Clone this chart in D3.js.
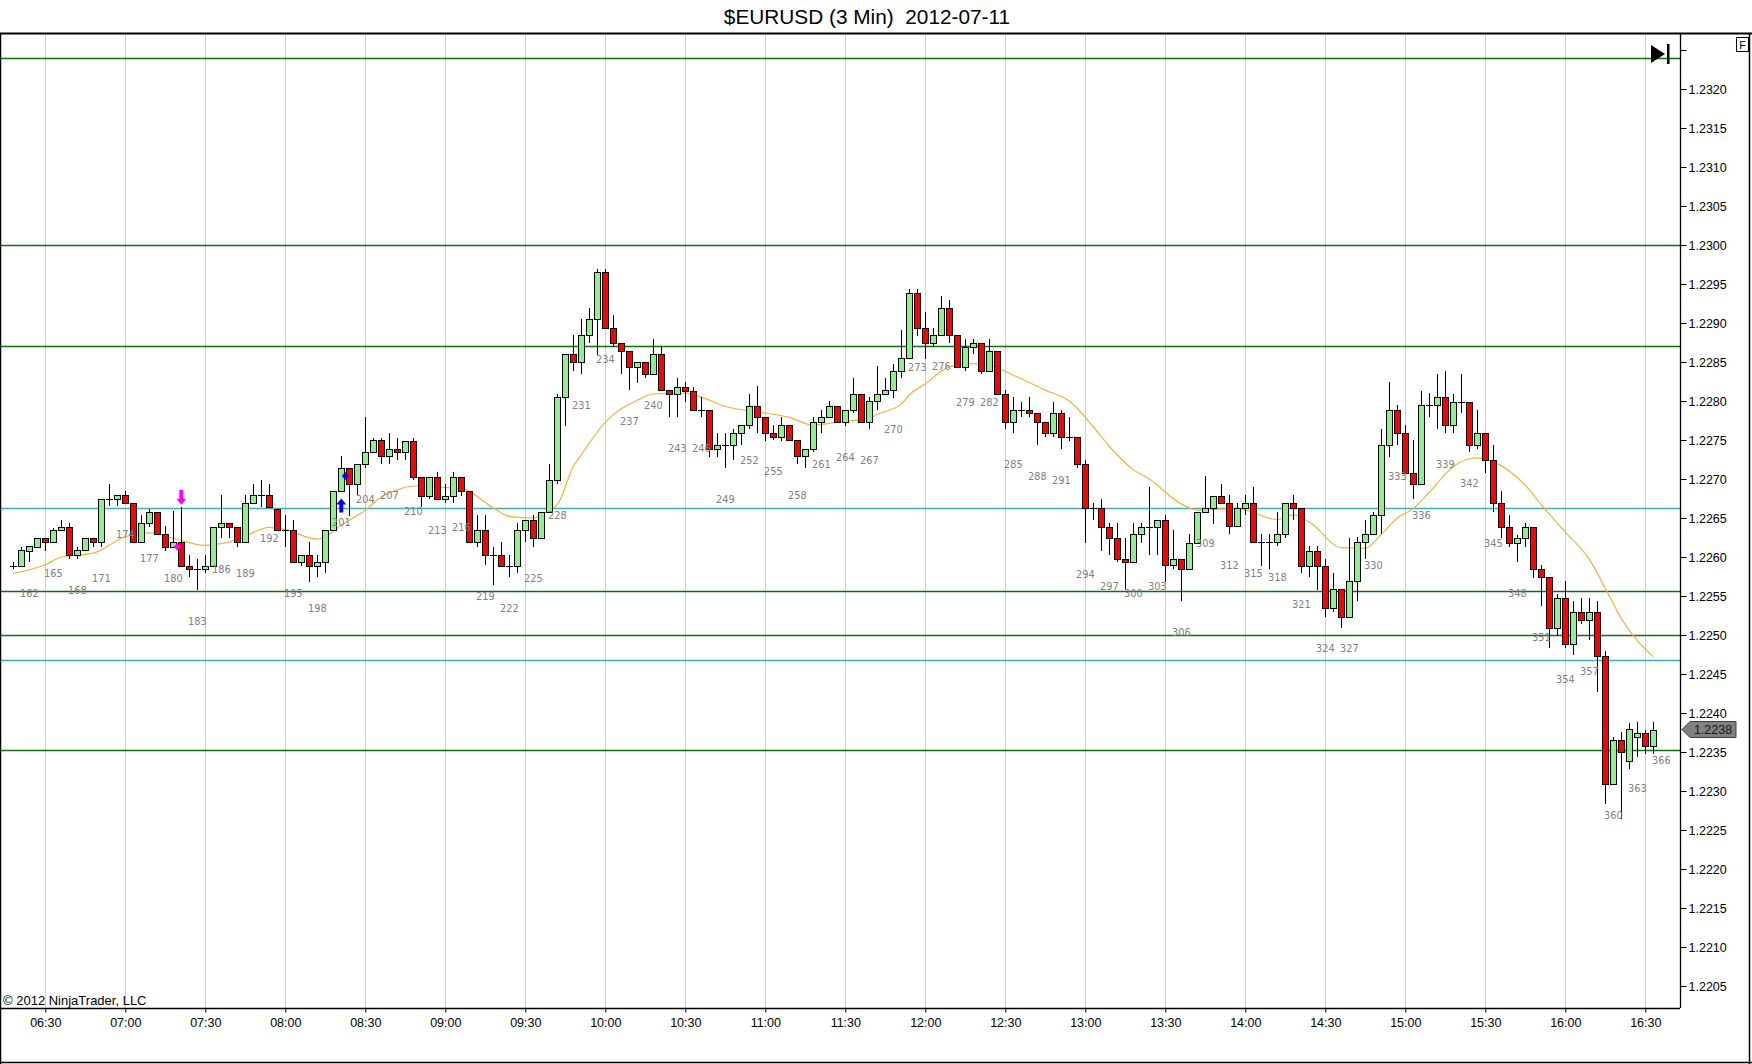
<!DOCTYPE html>
<html><head><meta charset="utf-8">
<script src="https://cdn.jsdelivr.net/npm/d3@7"></script>
<style>body{margin:0;background:#fff;} svg{display:block;}</style>
</head><body>
<svg id="c" width="1752" height="1064"></svg>
<script>
// ---------- data ----------
const title = "$EURUSD (3 Min)  2012-07-11";
const copyright = "\u00A9 2012 NinjaTrader, LLC";
const firstBarNumber = 160;
const firstBarTime = "2012-07-11 06:18";
const barMinutes = 3;

const open = [
1.22588,1.22589,1.22608,1.22613,1.22624,1.22619,1.22635,1.22639,1.22603,1.22609,
1.22624,1.22619,1.22674,1.22674,1.22679,1.22669,1.22619,1.22643,1.22658,1.22629,
1.22613,1.22619,1.22589,1.22584,1.22584,1.22589,1.22639,1.22643,1.22639,1.22619,
1.22669,1.22679,1.22679,1.22662,1.22635,1.22635,1.22593,1.22603,1.22589,1.22593,
1.22635,1.22685,1.22714,1.22694,1.22719,1.22735,1.22750,1.22729,1.22739,1.22735,
1.22749,1.22703,1.22678,1.22703,1.22674,1.22678,1.22703,1.22684,1.22619,1.22634,
1.22603,1.22603,1.22589,1.22589,1.22634,1.22648,1.22624,1.22658,1.22699,1.22805,
1.22860,1.22850,1.22884,1.22905,1.22965,1.22894,1.22874,1.22864,1.22844,1.22850,
1.22834,1.22860,1.22814,1.22809,1.22818,1.22813,1.22789,1.22789,1.22739,1.22744,
1.22744,1.22759,1.22769,1.22794,1.22779,1.22759,1.22754,1.22769,1.22750,1.22729,
1.22739,1.22773,1.22779,1.22794,1.22773,1.22789,1.22809,1.22773,1.22800,1.22809,
1.22814,1.22839,1.22855,1.22939,1.22894,1.22874,1.22884,1.22919,1.22884,1.22844,
1.22869,1.22874,1.22839,1.22864,1.22809,1.22773,1.22789,1.22789,1.22784,1.22773,
1.22759,1.22784,1.22754,1.22754,1.22719,1.22663,1.22663,1.22639,1.22624,1.22598,
1.22593,1.22629,1.22639,1.22639,1.22648,1.22590,1.22598,1.22584,1.22618,1.22658,
1.22663,1.22678,1.22669,1.22640,1.22663,1.22669,1.22619,1.22619,1.22619,1.22629,
1.22669,1.22663,1.22589,1.22608,1.22589,1.22534,1.22559,1.22523,1.22569,1.22619,
1.22629,1.22654,1.22744,1.22789,1.22759,1.22708,1.22694,1.22795,1.22795,1.22805,
1.22769,1.22799,1.22799,1.22744,1.22759,1.22724,1.22669,1.22639,1.22618,1.22624,
1.22639,1.22584,1.22574,1.22509,1.22548,1.22488,1.22529,1.22519,1.22529,1.22473,
1.22309,1.22365,1.22338,1.22369,1.22374,1.22358,1.22380];

const high = [
1.22593,1.22613,1.22614,1.22624,1.22624,1.22637,1.22648,1.22643,1.22613,1.22624,
1.22624,1.22674,1.22694,1.22679,1.22685,1.22669,1.22654,1.22662,1.22658,1.22640,
1.22659,1.22664,1.22603,1.22598,1.22603,1.22639,1.22679,1.22643,1.22639,1.22679,
1.22694,1.22699,1.22694,1.22662,1.22654,1.22647,1.22603,1.22619,1.22603,1.22635,
1.22685,1.22729,1.22714,1.22719,1.22780,1.22753,1.22753,1.22759,1.22753,1.22749,
1.22753,1.22703,1.22703,1.22709,1.22694,1.22709,1.22703,1.22684,1.22654,1.22654,
1.22613,1.22619,1.22602,1.22643,1.22648,1.22654,1.22658,1.22719,1.22809,1.22860,
1.22885,1.22905,1.22919,1.22969,1.22969,1.22910,1.22874,1.22864,1.22850,1.22850,
1.22879,1.22870,1.22814,1.22829,1.22824,1.22818,1.22805,1.22789,1.22759,1.22759,
1.22764,1.22769,1.22809,1.22819,1.22779,1.22769,1.22779,1.22769,1.22750,1.22739,
1.22779,1.22789,1.22800,1.22794,1.22789,1.22829,1.22809,1.22805,1.22845,1.22829,
1.22848,1.22891,1.22944,1.22944,1.22914,1.22894,1.22935,1.22929,1.22884,1.22879,
1.22879,1.22874,1.22879,1.22864,1.22814,1.22805,1.22799,1.22805,1.22784,1.22773,
1.22799,1.22789,1.22779,1.22754,1.22724,1.22669,1.22674,1.22643,1.22643,1.22624,
1.22643,1.22643,1.22690,1.22648,1.22654,1.22635,1.22598,1.22629,1.22658,1.22704,
1.22678,1.22694,1.22679,1.22669,1.22679,1.22690,1.22629,1.22629,1.22658,1.22669,
1.22679,1.22663,1.22614,1.22614,1.22598,1.22579,1.22559,1.22624,1.22626,1.22648,
1.22658,1.22764,1.22824,1.22795,1.22769,1.22750,1.22813,1.22810,1.22835,1.22839,
1.22809,1.22834,1.22799,1.22789,1.22759,1.22744,1.22685,1.22654,1.22628,1.22643,
1.22639,1.22590,1.22574,1.22553,1.22569,1.22543,1.22548,1.22548,1.22544,1.22479,
1.22369,1.22376,1.22387,1.22388,1.22378,1.22389,1.22380];

const low = [
1.22584,1.22589,1.22594,1.22613,1.22608,1.22619,1.22635,1.22598,1.22598,1.22609,
1.22613,1.22613,1.22665,1.22665,1.22669,1.22619,1.22619,1.22639,1.22629,1.22608,
1.22613,1.22589,1.22574,1.22558,1.22579,1.22589,1.22624,1.22624,1.22613,1.22619,
1.22669,1.22664,1.22664,1.22635,1.22613,1.22593,1.22589,1.22568,1.22574,1.22579,
1.22635,1.22685,1.22653,1.22679,1.22714,1.22735,1.22719,1.22719,1.22724,1.22724,
1.22699,1.22664,1.22674,1.22674,1.22669,1.22669,1.22678,1.22619,1.22613,1.22590,
1.22564,1.22589,1.22574,1.22579,1.22619,1.22613,1.22624,1.22658,1.22694,1.22768,
1.22838,1.22834,1.22874,1.22859,1.22894,1.22869,1.22834,1.22814,1.22823,1.22829,
1.22834,1.22814,1.22779,1.22779,1.22799,1.22789,1.22779,1.22728,1.22728,1.22714,
1.22724,1.22744,1.22764,1.22759,1.22749,1.22750,1.22749,1.22750,1.22719,1.22714,
1.22734,1.22759,1.22779,1.22773,1.22768,1.22784,1.22773,1.22764,1.22789,1.22809,
1.22804,1.22829,1.22855,1.22883,1.22854,1.22869,1.22884,1.22874,1.22844,1.22839,
1.22860,1.22834,1.22839,1.22809,1.22764,1.22759,1.22779,1.22779,1.22744,1.22754,
1.22754,1.22739,1.22749,1.22714,1.22618,1.22648,1.22608,1.22603,1.22593,1.22558,
1.22593,1.22618,1.22602,1.22602,1.22568,1.22584,1.22543,1.22584,1.22618,1.22658,
1.22642,1.22669,1.22629,1.22640,1.22654,1.22619,1.22589,1.22584,1.22614,1.22624,
1.22648,1.22579,1.22574,1.22558,1.22523,1.22529,1.22509,1.22523,1.22543,1.22597,
1.22629,1.22629,1.22728,1.22744,1.22708,1.22674,1.22694,1.22779,1.22764,1.22759,
1.22759,1.22784,1.22734,1.22739,1.22708,1.22658,1.22624,1.22613,1.22593,1.22613,
1.22573,1.22537,1.22483,1.22499,1.22483,1.22474,1.22514,1.22494,1.22427,1.22283,
1.22309,1.22264,1.22328,1.22344,1.22348,1.22348,1.22380];

const close = [
1.22588,1.22609,1.22614,1.22624,1.22619,1.22635,1.22639,1.22603,1.22609,1.22624,
1.22619,1.22674,1.22674,1.22679,1.22669,1.22619,1.22643,1.22658,1.22629,1.22613,
1.22619,1.22589,1.22584,1.22584,1.22589,1.22639,1.22643,1.22639,1.22619,1.22669,
1.22679,1.22679,1.22664,1.22635,1.22635,1.22593,1.22603,1.22589,1.22593,1.22635,
1.22685,1.22714,1.22694,1.22719,1.22734,1.22750,1.22729,1.22739,1.22735,1.22749,
1.22703,1.22678,1.22703,1.22674,1.22678,1.22703,1.22684,1.22619,1.22634,1.22603,
1.22603,1.22589,1.22589,1.22634,1.22648,1.22624,1.22658,1.22699,1.22805,1.22860,
1.22850,1.22884,1.22905,1.22965,1.22894,1.22874,1.22864,1.22844,1.22850,1.22834,
1.22860,1.22814,1.22809,1.22818,1.22813,1.22789,1.22789,1.22739,1.22744,1.22744,
1.22759,1.22769,1.22794,1.22779,1.22759,1.22754,1.22769,1.22750,1.22729,1.22739,
1.22773,1.22779,1.22794,1.22773,1.22789,1.22809,1.22773,1.22800,1.22809,1.22814,
1.22839,1.22855,1.22939,1.22894,1.22874,1.22884,1.22919,1.22884,1.22844,1.22869,
1.22874,1.22839,1.22864,1.22809,1.22773,1.22789,1.22789,1.22784,1.22773,1.22759,
1.22784,1.22754,1.22754,1.22719,1.22663,1.22663,1.22639,1.22624,1.22598,1.22593,
1.22629,1.22639,1.22639,1.22648,1.22590,1.22598,1.22584,1.22618,1.22658,1.22663,
1.22678,1.22669,1.22640,1.22663,1.22669,1.22619,1.22619,1.22619,1.22629,1.22669,
1.22663,1.22589,1.22608,1.22589,1.22534,1.22559,1.22523,1.22569,1.22619,1.22629,
1.22654,1.22744,1.22789,1.22759,1.22708,1.22694,1.22795,1.22795,1.22805,1.22769,
1.22799,1.22799,1.22744,1.22759,1.22724,1.22669,1.22639,1.22618,1.22624,1.22639,
1.22584,1.22574,1.22509,1.22548,1.22488,1.22529,1.22519,1.22529,1.22473,1.22309,
1.22365,1.22350,1.22380,1.22374,1.22358,1.22378,1.22380];

// moving average (orange) at these bar numbers
const emaBars = [160,164,166,170,174,177,180,184,188,192,194,198,199,201,204,206,208,210,214,216,
  220,222,225,227,228,230,231,234,238,240,244,246,249,253,257,260,263,267,268,271,272,274,276,277,
  280,282,285,289,292,295,297,300,302,306,308,312,314,318,320,322,326,329,331,333,335,337,340,342,
  343,345,349,351,354,357,359,361,365];
const emaValues = [1.22579,1.22590,1.22600,1.22605,1.22626,1.22631,1.22624,1.22615,1.22622,1.22638,1.22635,1.22623,1.22626,1.22641,1.22660,1.22677,1.22686,1.22691,1.22689,1.22688,
  1.22663,1.22652,1.22650,1.22660,1.22667,1.22716,1.22731,1.22773,1.22801,1.22809,1.22810,1.22805,1.22793,1.22786,1.22779,1.22769,1.22773,1.22778,1.22783,1.22796,1.22808,1.22822,1.22838,1.22844,
  1.22848,1.22846,1.22833,1.22814,1.22800,1.22767,1.22742,1.22712,1.22700,1.22668,1.22660,1.22662,1.22660,1.22648,1.22654,1.22645,1.22612,1.22611,1.22629,1.22650,1.22662,1.22683,1.22716,1.22726,
  1.22727,1.22722,1.22692,1.22667,1.22632,1.22597,1.22560,1.22521,1.22472];

const greenLevels = [1.2324, 1.2300, 1.2287, 1.22557, 1.2250, 1.22353];
const tealLevels = [1.22663, 1.22468];
const priceTicks = [1.2205,1.2210,1.2215,1.2220,1.2225,1.2230,1.2235,1.2240,1.2245,1.2250,1.2255,1.2260,
  1.2265,1.2270,1.2275,1.2280,1.2285,1.2290,1.2295,1.2300,1.2305,1.2310,1.2315,1.2320,1.2325];
const lastPrice = 1.2238;
const labelEvery = 3;
// signal markers: bar, price, kind
const markers = [
  {bar:181, price:1.22667, kind:"arrowDown", color:"#FF00FF"},
  {bar:180.5, price:1.22613, kind:"diamond", color:"#FF00FF"},
  {bar:201, price:1.22675, kind:"arrowUp", color:"#0000FF"},
  {bar:201.5, price:1.22704, kind:"diamond", color:"#0000FF"}
];

// ---------- drawing ----------
const W = 1752, H = 1064;
const plot = {left:0, right:1680, top:34, bottom:1008};
const svg = d3.select("#c");
svg.append("rect").attr("width", W).attr("height", H).attr("fill", "#fff");

const parse = d3.timeParse("%Y-%m-%d %H:%M");
const t0 = parse(firstBarTime);
const barTime = n => new Date(t0.getTime() + (n - firstBarNumber) * barMinutes * 60000);
const x = d3.scaleTime()
  .domain([barTime(164), barTime(364)])
  .range([45.3, 1645.3]);
const y = d3.scaleLinear().domain([1.2205, 1.2320]).range([986, 89]);
const bx = n => x(barTime(n));

const bars = open.map((o, i) => ({n: firstBarNumber + i, o, h: high[i], l: low[i], c: close[i]}));

svg.append("defs").append("clipPath").attr("id", "pc")
  .append("rect").attr("x", plot.left).attr("y", plot.top)
  .attr("width", plot.right - plot.left).attr("height", plot.bottom - plot.top);

// title
svg.append("text").attr("x", 867).attr("y", 23.5).attr("text-anchor", "middle")
  .style("white-space", "pre").attr("font-family", "Liberation Sans, Arial, sans-serif")
  .attr("font-size", 20.8).attr("fill", "#000").text(title);

const g = svg.append("g").attr("clip-path", "url(#pc)");

// vertical grid
const timeTicks = x.ticks(d3.timeMinute.every(30));
g.selectAll("line.vg").data(timeTicks).join("line")
  .attr("x1", d => Math.round(x(d)) + 0.5).attr("x2", d => Math.round(x(d)) + 0.5)
  .attr("y1", plot.top).attr("y2", plot.bottom)
  .attr("stroke", "#d0d0d0").attr("stroke-width", 1);

// horizontal level lines
g.selectAll("line.gl").data(greenLevels).join("line")
  .attr("x1", plot.left).attr("x2", plot.right)
  .attr("y1", d => Math.round(y(d)) + 0.5).attr("y2", d => Math.round(y(d)) + 0.5)
  .attr("stroke", "#0f6e0f").attr("stroke-width", 1.3);
g.selectAll("line.tl").data(tealLevels).join("line")
  .attr("x1", plot.left).attr("x2", plot.right)
  .attr("y1", d => Math.round(y(d)) + 0.5).attr("y2", d => Math.round(y(d)) + 0.5)
  .attr("stroke", "#3fb0b0").attr("stroke-width", 1.3);

// moving average
const ema = emaBars.map((b, i) => ({b, v: emaValues[i]}));
g.append("path").datum(ema)
  .attr("d", d3.line().x(d => bx(d.b)).y(d => y(d.v)).curve(d3.curveMonotoneX))
  .attr("fill", "none").attr("stroke", "#F4B13C").attr("stroke-width", 1.2);

// candles
const drawn = bars.filter(d => d.h > d.l);
const cg = g.selectAll("g.c").data(drawn).join("g");
cg.append("line")
  .attr("x1", d => Math.round(bx(d.n)) + 0.5).attr("x2", d => Math.round(bx(d.n)) + 0.5)
  .attr("y1", d => Math.round(y(d.h))).attr("y2", d => Math.round(y(d.l)))
  .attr("stroke", "#000").attr("stroke-width", 1);
cg.filter(d => d.o !== d.c).append("rect")
  .attr("x", d => Math.round(bx(d.n)) - 2.5)
  .attr("y", d => Math.round(y(Math.max(d.o, d.c))) + 0.5)
  .attr("width", 6)
  .attr("height", d => Math.max(1, Math.round(y(Math.min(d.o, d.c))) - Math.round(y(Math.max(d.o, d.c)))))
  .attr("fill", d => d.c > d.o ? "#90EE90" : "#FF0000")
  .attr("stroke", "#000").attr("stroke-width", 1);
cg.filter(d => d.o === d.c).append("line")
  .attr("x1", d => Math.round(bx(d.n)) - 3).attr("x2", d => Math.round(bx(d.n)) + 4)
  .attr("y1", d => Math.round(y(d.c)) + 0.5).attr("y2", d => Math.round(y(d.c)) + 0.5)
  .attr("stroke", "#000").attr("stroke-width", 1);

// bar number labels
g.selectAll("text.bn").data(bars.filter(d => d.n % labelEvery === 0)).join("text")
  .attr("x", d => bx(d.n)).attr("y", d => y(d.l) + 35)
  .attr("text-anchor", "middle").attr("font-family", "DejaVu Sans, Verdana, sans-serif")
  .attr("font-size", 9.8).attr("fill", "#808080").text(d => d.n);

// markers
markers.forEach(m => {
  const cx = bx(m.bar), cy = y(m.price);
  let p;
  if (m.kind === "arrowDown") {
    p = `M${cx-2},${cy-15}h4v9h3l-5,6l-5,-6h3z`;
  } else if (m.kind === "arrowUp") {
    p = `M${cx-2},${cy+14}h4v-8h3l-5,-6l-5,6h3z`;
  } else {
    p = `M${cx},${cy-4}l3.5,4l-3.5,4l-3.5,-4z`;
  }
  g.append("path").attr("d", p).attr("fill", m.color);
});

// frame
svg.append("line").attr("x1", 0).attr("x2", W).attr("y1", plot.top - 0.5).attr("y2", plot.top - 0.5)
  .attr("stroke", "#000").attr("stroke-width", 2);
svg.append("line").attr("x1", 0.5).attr("x2", 0.5).attr("y1", plot.top).attr("y2", H)
  .attr("stroke", "#000").attr("stroke-width", 1.5);
svg.append("line").attr("x1", W - 2.5).attr("x2", W - 2.5).attr("y1", plot.top).attr("y2", H)
  .attr("stroke", "#000").attr("stroke-width", 1.5);
svg.append("line").attr("x1", 0).attr("x2", W).attr("y1", H - 1.5).attr("y2", H - 1.5)
  .attr("stroke", "#000").attr("stroke-width", 1.5);

// right price axis
const ya = svg.append("g").attr("transform", `translate(${plot.right + 0.5},0)`)
  .call(d3.axisRight(y).tickValues(priceTicks).tickSize(6).tickPadding(2)
    .tickFormat(d => d > 1.23225 ? "" : d3.format(".4f")(d)));
ya.select(".domain").remove();
ya.append("line").attr("x1", 0).attr("x2", 0).attr("y1", plot.top).attr("y2", plot.bottom)
  .attr("stroke", "#000").attr("stroke-width", 1.3);
ya.selectAll("text").attr("font-family", "Liberation Sans, Arial, sans-serif").attr("font-size", 12.5).attr("fill", "#000");
ya.selectAll(".tick line").attr("stroke", "#000");

// bottom time axis
const xa = svg.append("g").attr("transform", `translate(0,${plot.bottom + 0.5})`)
  .call(d3.axisBottom(x).tickValues(timeTicks).tickSize(4).tickPadding(6)
    .tickFormat(d3.timeFormat("%H:%M")));
xa.select(".domain").remove();
xa.append("line").attr("x1", 0).attr("x2", plot.right).attr("y1", 0).attr("y2", 0)
  .attr("stroke", "#000").attr("stroke-width", 1.3);
xa.selectAll("text").attr("font-family", "Liberation Sans, Arial, sans-serif").attr("font-size", 12.5).attr("fill", "#000");
xa.selectAll(".tick line").attr("stroke", "#000");

// copyright
svg.append("text").attr("x", 3).attr("y", 1005).attr("font-family", "Liberation Sans, Arial, sans-serif")
  .attr("font-size", 13).attr("fill", "#000").text(copyright);

// last price marker
const ly = Math.round(y(lastPrice));
svg.append("path")
  .attr("d", `M${plot.right + 2},${ly + 0.5}l8,-8h46v16h-46z`)
  .attr("fill", "#808080").attr("stroke", "#404040").attr("stroke-width", 1);
svg.append("text").attr("x", plot.right + 33).attr("y", ly + 5).attr("text-anchor", "middle")
  .attr("font-family", "Liberation Sans, Arial, sans-serif").attr("font-size", 12.5).attr("fill", "#1a1a1a")
  .text(d3.format(".4f")(lastPrice));

// "go to end" button
svg.append("path").attr("d", "M1651,45L1665,54L1651,63Z").attr("fill", "#000");
svg.append("rect").attr("x", 1667).attr("y", 44).attr("width", 2.5).attr("height", 20).attr("fill", "#000");
// "F" box
svg.append("rect").attr("x", 1736.5).attr("y", 37.5).attr("width", 12).attr("height", 14)
  .attr("fill", "#fff").attr("stroke", "#000").attr("stroke-width", 1);
svg.append("text").attr("x", 1742.5).attr("y", 49).attr("text-anchor", "middle")
  .attr("font-family", "Liberation Sans, Arial, sans-serif").attr("font-size", 11).text("F");
</script>
</body></html>
